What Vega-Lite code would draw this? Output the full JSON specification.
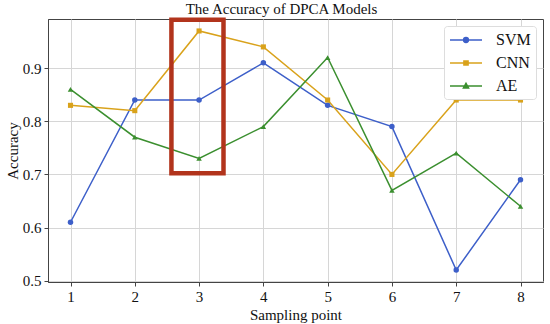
{
  "$schema": "https://vega.github.io/schema/vega-lite/v6.json",
  "width": 495,
  "height": 263,
  "autosize": {"type": "none"},
  "padding": {"left": 48, "top": 19, "right": 7, "bottom": 42},
  "background": "white",
  "title": {"text": "The Accuracy of DPCA Models", "font": "Liberation Serif", "fontSize": 15, "fontWeight": "normal", "color": "#111", "offset": 1, "anchor": "middle", "dx": -14},
  "config": {
    "view": {"stroke": "#444", "strokeWidth": 1},
    "axis": {"labelFont": "Liberation Serif", "titleFont": "Liberation Serif", "labelFontSize": 15, "titleFontSize": 15, "titleFontWeight": "normal", "labelColor": "#111", "titleColor": "#111", "gridColor": "#d6d6d6", "gridWidth": 1, "domainColor": "#444", "tickColor": "#444", "tickSize": 4}
  },
  "datasets": {
    "acc": [
      {"point": 1, "model": "SVM", "acc": 0.61},
      {"point": 2, "model": "SVM", "acc": 0.84},
      {"point": 3, "model": "SVM", "acc": 0.84},
      {"point": 4, "model": "SVM", "acc": 0.91},
      {"point": 5, "model": "SVM", "acc": 0.83},
      {"point": 6, "model": "SVM", "acc": 0.79},
      {"point": 7, "model": "SVM", "acc": 0.52},
      {"point": 8, "model": "SVM", "acc": 0.69},
      {"point": 1, "model": "CNN", "acc": 0.83},
      {"point": 2, "model": "CNN", "acc": 0.82},
      {"point": 3, "model": "CNN", "acc": 0.97},
      {"point": 4, "model": "CNN", "acc": 0.94},
      {"point": 5, "model": "CNN", "acc": 0.84},
      {"point": 6, "model": "CNN", "acc": 0.70},
      {"point": 7, "model": "CNN", "acc": 0.84},
      {"point": 8, "model": "CNN", "acc": 0.84},
      {"point": 1, "model": "AE", "acc": 0.86},
      {"point": 2, "model": "AE", "acc": 0.77},
      {"point": 3, "model": "AE", "acc": 0.73},
      {"point": 4, "model": "AE", "acc": 0.79},
      {"point": 5, "model": "AE", "acc": 0.92},
      {"point": 6, "model": "AE", "acc": 0.67},
      {"point": 7, "model": "AE", "acc": 0.74},
      {"point": 8, "model": "AE", "acc": 0.64}
    ],
    "box": [{"x1": 2.57, "x2": 3.38, "y1": 0.702, "y2": 0.991}]
  },
  "data": {"name": "acc"},
  "encoding": {
    "x": {"field": "point", "type": "quantitative", "scale": {"domain": [0.65, 8.35], "nice": false, "zero": false},
      "axis": {"values": [1, 2, 3, 4, 5, 6, 7, 8], "format": "d", "title": "Sampling point", "titlePadding": 3, "labelPadding": 3}},
    "y": {"field": "acc", "type": "quantitative", "scale": {"domain": [0.4975, 0.9925], "nice": false, "zero": false},
      "axis": {"values": [0.5, 0.6, 0.7, 0.8, 0.9], "format": ".1f", "title": "Accuracy", "titlePadding": 2, "labelPadding": 3}},
    "color": {"field": "model", "type": "nominal", "scale": {"domain": ["SVM", "CNN", "AE"], "range": ["#3d5fc9", "#d9a21b", "#3b8f2f"]},
      "legend": {"title": null, "orient": "top-right", "offset": 7, "symbolSize": 256, "symbolOpacity": 1, "symbolStrokeWidth": 1.5,
        "labelFont": "Liberation Serif", "labelFontSize": 16, "labelColor": "#111", "rowPadding": 6, "labelOffset": 29,
        "padding": 5, "strokeColor": "#ddd", "fillColor": "white", "cornerRadius": 3,
        "encode": {"symbols": {"update": {"stroke": {"scale": "color", "field": "value"}, "fill": {"scale": "color", "field": "value"}, "opacity": {"value": 1}}}}}}
  },
  "layer": [
    {"mark": {"type": "line", "strokeWidth": 1.5}, "encoding": {"detail": {"field": "model"}}},
    {"transform": [{"filter": "datum.model === 'SVM'"}], "mark": {"type": "point", "shape": "circle", "filled": true, "size": 30, "opacity": 1}},
    {"transform": [{"filter": "datum.model === 'CNN'"}], "mark": {"type": "point", "shape": "square", "filled": true, "size": 26, "opacity": 1}},
    {"transform": [{"filter": "datum.model === 'AE'"}], "mark": {"type": "point", "shape": "triangle-up", "filled": true, "size": 30, "opacity": 1}},
    {
      "mark": {"type": "point", "filled": true, "opacity": 0},
      "encoding": {
        "shape": {"field": "model", "type": "nominal",
          "scale": {"domain": ["SVM", "CNN", "AE"], "range": [
            "M-1,0L3,0M1.3,0A0.3,0.3,0,1,1,0.7,0A0.3,0.3,0,1,1,1.3,0Z",
            "M-1,0L3,0M0.74,-0.26L1.26,-0.26L1.26,0.26L0.74,0.26Z",
            "M-1,0L3,0M1,-0.34L1.32,0.24L0.68,0.24Z"
          ]},
          "legend": {"title": null, "orient": "top-right", "offset": 7, "symbolSize": 256, "symbolOpacity": 1, "symbolStrokeWidth": 1.5,
            "labelFont": "Liberation Serif", "labelFontSize": 16, "labelColor": "#111", "rowPadding": 6, "labelOffset": 29,
            "padding": 5, "strokeColor": "#ddd", "fillColor": "white", "cornerRadius": 3,
            "encode": {"symbols": {"update": {"stroke": {"scale": "color", "field": "value"}, "fill": {"scale": "color", "field": "value"}, "opacity": {"value": 1}}}}}
        }
      }
    },
    {
      "data": {"name": "box"},
      "mark": {"type": "rect", "fill": null, "fillOpacity": 0, "stroke": "#b2341c", "strokeWidth": 4.5, "clip": false},
      "encoding": {
        "x": {"field": "x1", "type": "quantitative"},
        "x2": {"field": "x2"},
        "y": {"field": "y1", "type": "quantitative"},
        "y2": {"field": "y2"},
        "color": {"value": null}
      }
    }
  ]
}
